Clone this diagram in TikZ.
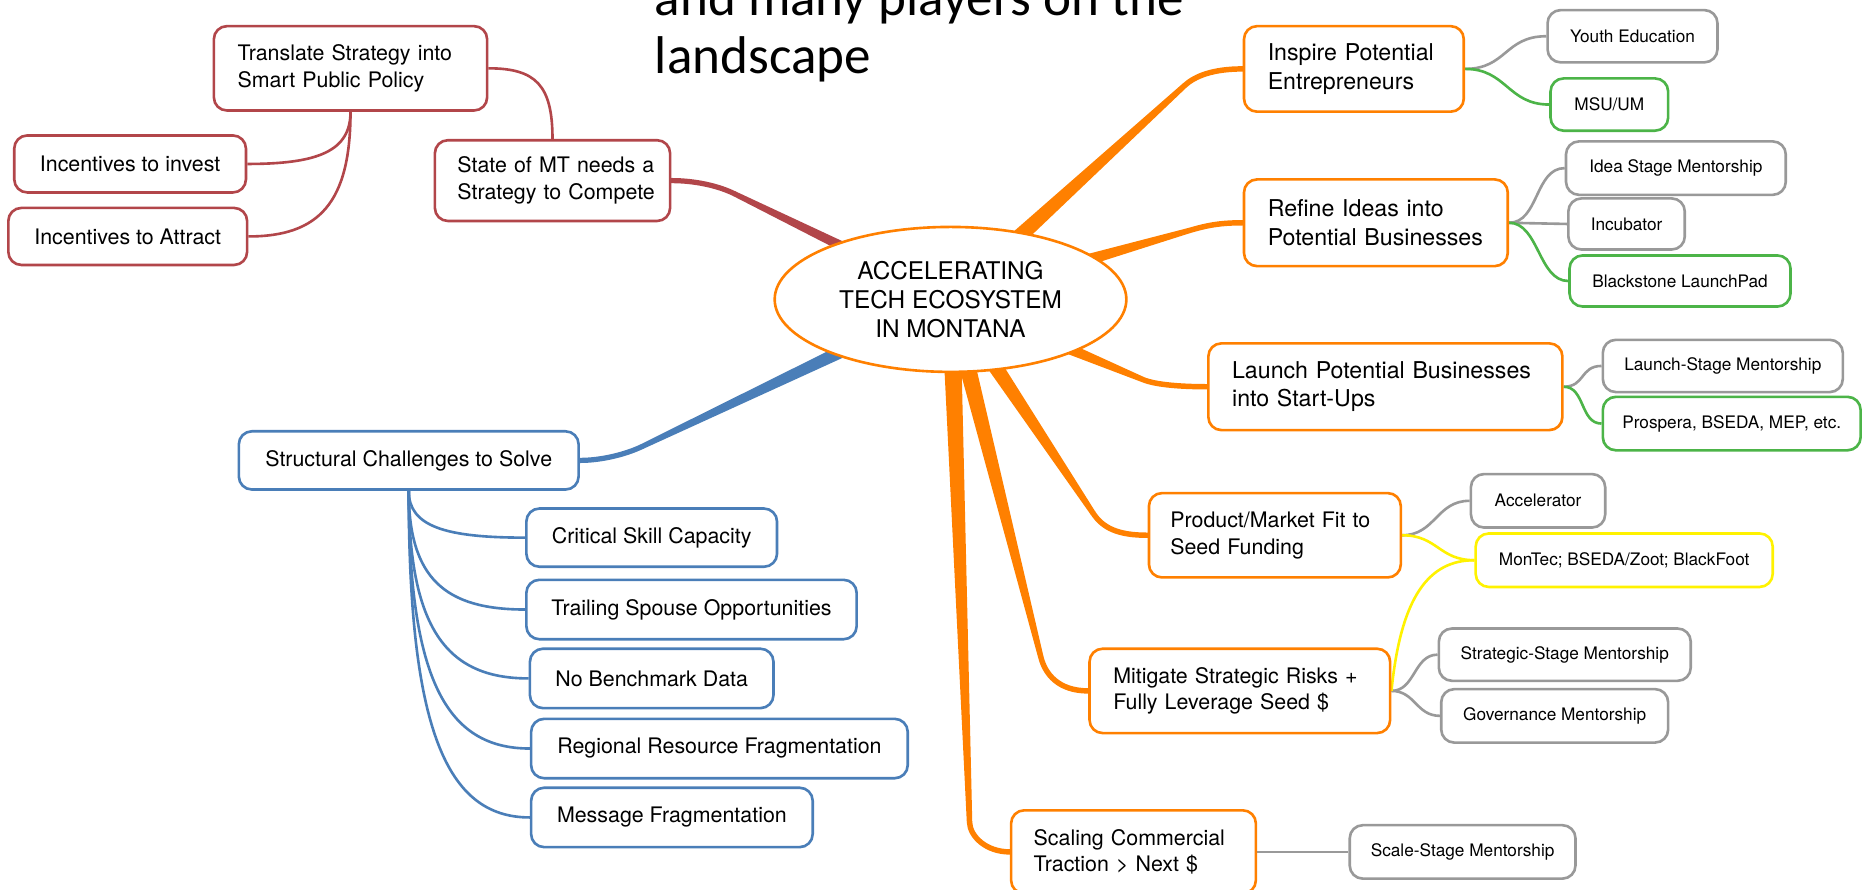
\documentclass[tikz,border=0pt]{standalone}
\usepackage{fontspec}
\setmainfont{TeX Gyre Heros}
\newfontfamily\titlefont{Carlito}
\usetikzlibrary{calc,shapes.geometric,backgrounds}
\definecolor{ocol}{RGB}{255,128,0}
\definecolor{rcol}{RGB}{178,70,74}
\definecolor{bcol}{RGB}{74,126,184}
\definecolor{gcol}{RGB}{153,153,153}
\definecolor{grcol}{RGB}{76,180,72}
\definecolor{ycol}{RGB}{255,242,0}
% #1 colour, #2 start, #3 bend point, #4 start half width, #5 bend half width (number, pt),
% #6 target, #7 first control length, #8 second control x offset
\newcommand\mybranch[8]{%
  \fill[#1] ($(#2)!#4!90:(#3)$) -- ($(#3)!#5pt!-90:(#2)$) -- ($(#3)!#5pt!90:(#2)$) -- ($(#2)!#4!-90:(#3)$) -- cycle;
  \draw[#1, line width=2*#5pt, line cap=round] (#3) .. controls ($(#3)!#7!180:(#2)$) and ($(#6)+(#8,0)$) .. (#6);
}
\newcommand\myl[1]{\mbox{#1}}
\begin{document}
\begin{tikzpicture}[x=1pt, y=-1pt,
  box/.style={draw, fill=white, rounded corners=11pt, line width=2.2pt, inner sep=0pt, text=black, align=center},
  rbox/.style={box, draw=rcol}, bbox/.style={box, draw=bcol}, obox/.style={box, draw=ocol},
  gbox/.style={box, draw=gcol}, grbox/.style={box, draw=grcol}, ybox/.style={box, draw=ycol},
  fA/.style={font=\fontsize{19.5}{24}\selectfont},
  fB/.style={font=\fontsize{18}{22.5}\selectfont},
  fS/.style={font=\fontsize{14.5}{17}\selectfont},
  rlink/.style={draw=rcol, line width=2.2pt},
  blink/.style={draw=bcol, line width=2.2pt},
  glink/.style={draw=gcol, line width=2.2pt},
  grlink/.style={draw=grcol, line width=2.2pt},
  ylink/.style={draw=ycol, line width=2.2pt}]
\useasboundingbox (0,0) rectangle (1568,749);

% title
\node[anchor=base west, inner sep=0pt, font=\titlefont\fontsize{44.7}{49}\selectfont] (title1) at (551,13) {and many players on the};
\node[anchor=base west, inner sep=0pt, font=\titlefont\fontsize{44.7}{49}\selectfont] (title2) at (551,62) {landscape};

% root
\node[ellipse, draw=ocol, fill=white, line width=2.2pt, minimum width=296pt, minimum height=122pt, inner sep=0pt, align=center, font=\fontsize{20.5}{24.5}\selectfont] (root) at (800,252) {ACCELERATING\\TECH ECOSYSTEM\\IN MONTANA};

% red group
\node[rbox, fB, align=left, inner xsep=20pt, text width=190pt, minimum height=71pt] (trans) at (295,57.5) {\myl{Translate Strategy into}\\\myl{Smart Public Policy}};
\node[rbox, fB, minimum width=195pt, minimum height=48pt] (incinv) at (109.5,138) {Incentives to invest};
\node[rbox, fB, minimum width=201pt, minimum height=48pt] (incatt) at (107.5,199) {Incentives to Attract};
\node[rbox, fB, align=left, inner xsep=19pt, text width=160pt, minimum height=68pt] (state) at (465,152) {\myl{State of MT needs a}\\\myl{Strategy to Compete}};

% blue group
\node[bbox, fB, minimum width=286pt, minimum height=49pt] (struct) at (344,387.5) {Structural Challenges to Solve};
\node[bbox, fB, minimum width=211pt, minimum height=49pt] (crit) at (548.5,452.5) {Critical Skill Capacity};
\node[bbox, fB, minimum width=278pt, minimum height=50pt] (trail) at (582,513) {Trailing Spouse Opportunities};
\node[bbox, fB, minimum width=205pt, minimum height=50pt] (nobench) at (548.5,571) {No Benchmark Data};
\node[bbox, fB, minimum width=317pt, minimum height=50pt] (regional) at (605.5,630) {Regional Resource Fragmentation};
\node[bbox, fB, minimum width=237pt, minimum height=50pt] (message) at (565.5,688) {Message Fragmentation};

% orange group
\node[obox, fA, align=left, inner xsep=20pt, text width=145pt, minimum height=72pt] (inspire) at (1139.5,58) {\myl{Inspire Potential}\\\myl{Entrepreneurs}};
\node[obox, fA, align=left, inner xsep=20pt, text width=182pt, minimum height=73pt] (refine) at (1158,187.5) {\myl{Refine Ideas into}\\\myl{Potential Businesses}};
\node[obox, fA, align=left, inner xsep=20pt, text width=258pt, minimum height=73pt] (launch) at (1166,325.5) {\myl{Launch Potential Businesses}\\\myl{into Start-Ups}};
\node[obox, fB, align=left, inner xsep=18pt, text width=176pt, minimum height=71pt] (product) at (1073,450.5) {\myl{Product/Market Fit to}\\\myl{Seed Funding}};
\node[obox, fB, align=left, inner xsep=20pt, text width=213pt, minimum height=71pt] (mitigate) at (1043.5,581.5) {\myl{Mitigate Strategic Risks +}\\\myl{Fully Leverage Seed \$}};
\node[obox, fB, align=left, inner xsep=19pt, text width=168pt, minimum height=70pt] (scaling) at (954,717) {\myl{Scaling Commercial}\\\myl{Traction > Next \$}};

% leaves
\node[gbox, fS, minimum width=143pt, minimum height=44pt] (youth) at (1374,30.5) {Youth Education};
\node[grbox, fS, minimum width=99pt, minimum height=44pt] (msu) at (1354.5,88) {MSU/UM};
\node[gbox, fS, minimum width=185pt, minimum height=45pt] (idea) at (1410.5,141.5) {Idea Stage Mentorship};
\node[gbox, fS, minimum width=98pt, minimum height=43pt] (incub) at (1369,188.5) {Incubator};
\node[grbox, fS, minimum width=186pt, minimum height=43pt] (black) at (1414,236.5) {Blackstone LaunchPad};
\node[gbox, fS, minimum width=202pt, minimum height=44pt] (lstage) at (1450,308) {Launch-Stage Mentorship};
\node[grbox, fS, minimum width=217pt, minimum height=45pt] (prospera) at (1457.5,356.5) {Prospera, BSEDA, MEP, etc.};
\node[gbox, fS, minimum width=113pt, minimum height=45pt] (accel) at (1294.5,421.5) {Accelerator};
\node[ybox, fS, minimum width=250pt, minimum height=45pt] (montec) at (1367,471.5) {MonTec; BSEDA/Zoot; BlackFoot};
\node[gbox, fS, minimum width=212pt, minimum height=44pt] (strat) at (1317,551) {Strategic-Stage Mentorship};
\node[gbox, fS, minimum width=191pt, minimum height=45pt] (gov) at (1308.5,602.5) {Governance Mentorship};
\node[gbox, fS, minimum width=190pt, minimum height=45pt] (scale) at (1231,717) {Scale-Stage Mentorship};

\begin{pgfonlayer}{background}
\fill[white] (0,0) rectangle (1568,749);
% thick tapered branches from the root
\coordinate (r1) at (618,163);
\coordinate (b1) at (540,376);
\coordinate (o1) at (997,72);
\coordinate (o2) at (1001,194);
\coordinate (o3) at (962,319.5);
\coordinate (o4) at (920,432);
\coordinate (o5) at (876,553);
\coordinate (o6) at (816,692);
\mybranch{rcol}{root.center}{r1}{6pt}{2.2}{state.east}{15pt}{20}
\mybranch{bcol}{root.center}{b1}{7pt}{2.2}{struct.east}{15pt}{18}
\mybranch{ocol}{root.center}{o1}{8pt}{2.3}{inspire.west}{12pt}{-25}
\mybranch{ocol}{root.center}{o2}{8pt}{2.3}{refine.west}{15pt}{-20}
\mybranch{ocol}{root.center}{o3}{8pt}{2.3}{launch.west}{12pt}{-20}
\mybranch{ocol}{root.center}{o4}{8pt}{2.3}{product.west}{15pt}{-25}
\mybranch{ocol}{root.center}{o5}{8pt}{2.3}{mitigate.west}{15pt}{-25}
\mybranch{ocol}{root.center}{o6}{8pt}{2.3}{scaling.west}{12pt}{-20}

% red links
\draw[rlink] (trans.south) .. controls +(0,33) and +(60,0) .. (incinv.east);
\draw[rlink] (trans.south) .. controls +(0,77) and +(59,0) .. (incatt.east);
\draw[rlink] (trans.east) .. controls +(40,0) and +(0,-45) .. (state.north);
% blue links
\draw[blink] (struct.south) .. controls +(0,30) and +(-67,0) .. (crit.west);
\draw[blink] (struct.south) .. controls +(0,74) and +(-67,0) .. (trail.west);
\draw[blink] (struct.south) .. controls +(0,116) and +(-69,0) .. (nobench.west);
\draw[blink] (struct.south) .. controls +(0,159) and +(-70,0) .. (regional.west);
\draw[blink] (struct.south) .. controls +(0,201) and +(-70,0) .. (message.west);
% leaf links
\draw[glink] (inspire.east) .. controls +(35,0) and +(-35,0) .. (youth.west);
\draw[grlink] (inspire.east) .. controls +(35,0) and +(-35,0) .. (msu.west);
\draw[glink] (refine.east) .. controls +(25,0) and +(-25,0) .. (idea.west);
\draw[glink] (refine.east) .. controls +(25,0) and +(-25,0) .. (incub.west);
\draw[grlink] (refine.east) .. controls +(25,0) and +(-25,0) .. (black.west);
\draw[glink] (launch.east) .. controls +(18,0) and +(-18,0) .. (lstage.west);
\draw[grlink] (launch.east) .. controls +(18,0) and +(-18,0) .. (prospera.west);
\draw[glink] (product.east) .. controls +(28,0) and +(-28,0) .. (accel.west);
\draw[ylink] (product.east) .. controls +(30,0) and +(-30,0) .. (montec.west);
\draw[glink] (mitigate.east) .. controls +(20,0) and +(-20,0) .. (strat.west);
\draw[glink] (mitigate.east) .. controls +(20,0) and +(-20,0) .. (gov.west);
\draw[ylink] (mitigate.east) .. controls +(8,-80) and +(-38,0) .. (montec.west);
\draw[glink] (scaling.east) -- (scale.west);
\end{pgfonlayer}
\end{tikzpicture}
\end{document}
